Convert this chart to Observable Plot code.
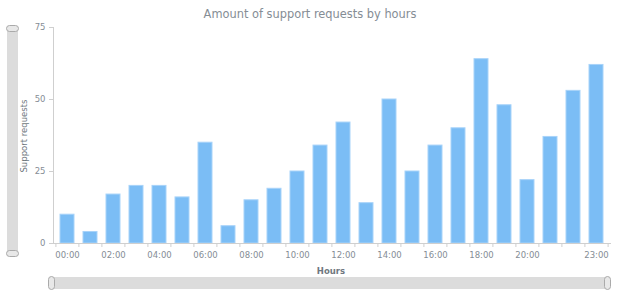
<!DOCTYPE html>
<html><head><meta charset="utf-8">
<script src="https://cdn.jsdelivr.net/npm/d3@7"></script>
<script src="https://cdn.jsdelivr.net/npm/@observablehq/plot@0.6"></script>
<style>
body{margin:0;background:#fff;font-family:"DejaVu Sans",sans-serif}
#wrap{position:relative;width:620px;height:300px;overflow:hidden}
#chart{position:absolute;left:0;top:0}
.title{position:absolute;left:0;top:6px;width:620px;text-align:center;font-size:11.4px;color:#858d95;line-height:16px}
.ylab{position:absolute;left:24px;top:136px;transform:translate(-50%,-50%) rotate(-90deg);font-size:8.5px;color:#6f7880;white-space:nowrap}
.xlab{position:absolute;left:331px;top:266px;transform:translateX(-50%);font-size:8.5px;color:#6f7880;font-weight:bold;white-space:nowrap}
.vscroll{position:absolute;left:7px;top:26px;width:11px;height:230px;background:#dcdcdc;border-radius:2px}
.hscroll{position:absolute;left:49px;top:277px;width:561px;height:12px;background:#dcdcdc;border-radius:2px}
.vh{position:absolute;left:-1px;width:11px;height:5px;background:#e8e8e8;border:1px solid #aaa;border-radius:4px}
.hh{position:absolute;top:-1px;width:5px;height:12px;background:#e8e8e8;border:1px solid #aaa;border-radius:4px}
</style>
</head><body>
<div id="wrap">
  <div id="chart"></div>
  <div class="title">Amount of support requests by hours</div>
  <div class="ylab">Support requests</div>
  <div class="xlab">Hours</div>
  <div class="vscroll"><div class="vh" style="top:-1px"></div><div class="vh" style="bottom:-1px"></div></div>
  <div class="hscroll"><div class="hh" style="left:-1px"></div><div class="hh" style="right:-1px"></div></div>
</div>
<script>
const hours = ["00:00","01:00","02:00","03:00","04:00","05:00","06:00","07:00","08:00","09:00","10:00","11:00",
               "12:00","13:00","14:00","15:00","16:00","17:00","18:00","19:00","20:00","21:00","22:00","23:00"];
const requests = [10,4,17,20,20,16,35,6,15,19,25,34,42,14,50,25,34,40,64,48,22,37,53,62];
const xTickLabels = ["00:00","02:00","04:00","06:00","08:00","10:00","12:00","14:00","16:00","18:00","20:00","23:00"];
const yTicks = [0,25,50,75];

const data = hours.map((h,i)=>({hour:h, value:requests[i]}));
const W=620,H=300,mL=53,mR=10,mT=27,mB=57;
const step=(W-mL-mR)/hours.length;
const axisColor="#cfcfcf", textColor="#858d95";

const chart = Plot.plot({
  width:W,height:H,marginLeft:mL,marginRight:mR,marginTop:mT,marginBottom:mB,
  style:{fontFamily:"DejaVu Sans, sans-serif",fontSize:"8.5px",background:"transparent",overflow:"visible"},
  x:{domain:hours,paddingInner:0.4,paddingOuter:0.2,axis:null},
  y:{domain:[0,75],axis:null},
  marks:[
    Plot.barY(data,{x:"hour",y:"value",fill:"#7bbdf5",stroke:"#a8d3f9",strokeWidth:1}),
    Plot.frame({anchor:"left",stroke:axisColor}),
    Plot.frame({anchor:"bottom",stroke:axisColor}),
    Plot.axisY({ticks:yTicks,tickSize:4,tickPadding:4,stroke:axisColor,fill:textColor,label:null}),
    Plot.axisX({ticks:hours,tickSize:4,dx:-step/2,stroke:axisColor,tickFormat:()=>"",label:null}),
    Plot.axisX({ticks:["23:00"],tickSize:4,dx:step/2,stroke:axisColor,tickFormat:()=>"",label:null}),
    Plot.axisX({ticks:xTickLabels,tickSize:0,tickPadding:8,fill:textColor,label:null})
  ]
});
document.getElementById("chart").appendChild(chart);
</script>
</body></html>
